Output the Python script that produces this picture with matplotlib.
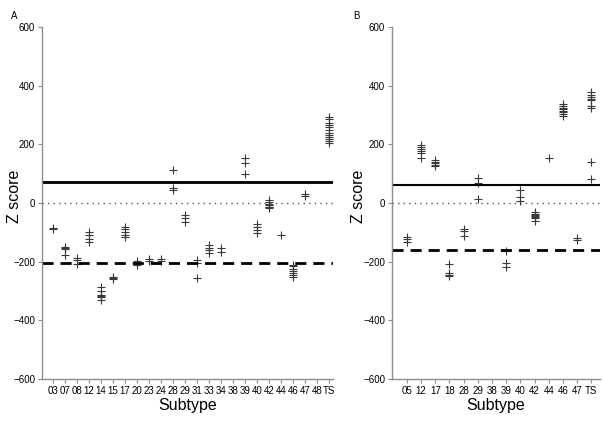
import matplotlib
matplotlib.use("Agg")
import matplotlib.pyplot as plt

plt.rcParams["font.family"] = ["Liberation Sans", "DejaVu Sans"]

# Panel A
subtypes_a = ["03", "07", "08", "12", "14", "15", "17", "20", "23", "24", "28", "29",
              "31", "33", "34", "38", "39", "40", "42", "44", "46", "47", "48", "TS"]
zscores_a = [
    [-85, -90],
    [-149, -154, -158, -177],
    [-186, -194, -207],
    [-99, -110, -122, -133],
    [-288, -300, -314, -318, -321, -332],
    [-252, -255, -258],
    [-81, -90, -98, -109, -115],
    [-197, -204, -211],
    [-192, -197],
    [-191, -198],
    [113, 52, 44],
    [-41, -52, -64],
    [-194, -206, -255],
    [-143, -152, -160, -172],
    [-155, -166],
    [],
    [155, 135, 98],
    [-70, -81, -92, -103],
    [10, 2, -5, -8, -12, -15, -18],
    [-109],
    [-210, -215, -225, -232, -240, -247, -253],
    [25, 30],
    [],
    [295, 285, 272, 265, 258, 250, 240, 232, 225, 218, 212, 205],
]
upper_a = 73
lower_a = -206

# Panel B
subtypes_b = ["05", "12", "17", "18", "28", "29", "38", "39", "40", "42", "44", "46", "47", "TS"]
zscores_b = [
    [-115, -124, -134],
    [198, 190, 183, 178, 172, 155],
    [145, 140, 135, 130, 125],
    [-208, -240, -245, -250],
    [-88, -95, -112],
    [84, 67, 13],
    [],
    [-164, -206, -217],
    [44, 19, 8],
    [-30, -38, -42, -45, -48, -52, -60],
    [152],
    [337, 330, 325, 320, 315, 310, 303, 297],
    [-120, -125],
    [378, 370, 362, 355, 350, 332, 323, 139, 82],
]
upper_b = 60
lower_b = -160

fig = plt.figure(figsize=(6.03, 4.22), dpi=100)
ax_a = fig.add_axes([0.0697, 0.1019, 0.4826, 0.834])
ax_b = fig.add_axes([0.650, 0.1019, 0.345, 0.834])

spine_grey = "#8c8c8c"


def draw_panel(ax, subtypes, zscores, upper, lower, xlim, solid_lw, ylabel_x):
    for i, vals in enumerate(zscores, start=1):
        if vals:
            ax.plot([i] * len(vals), vals, linestyle="none", marker="+",
                    markersize=5.5, markeredgewidth=0.8, color="#3a3a3a")
    ax.axhline(upper, color="black", linewidth=solid_lw)
    ax.axhline(0, color="#555555", linewidth=1.0, linestyle=(0, (1, 3)))
    ax.axhline(lower, color="black", linewidth=2.0, linestyle=(0, (4, 2.5)))

    ax.set_xlim(*xlim)
    ax.set_ylim(-600, 600)
    ax.set_yticks([-600, -400, -200, 0, 200, 400, 600])
    ax.set_yticklabels(["\u2212600", "\u2212400", "\u2212200", "0", "200", "400", "600"])
    ax.set_xticks(range(1, len(subtypes) + 1))
    ax.set_xticklabels(subtypes)
    ax.tick_params(axis="both", labelsize=7, length=3, width=0.8, color=spine_grey,
                   direction="out", pad=2)
    for side in ("top", "right"):
        ax.spines[side].set_visible(False)
    for side in ("left", "bottom"):
        ax.spines[side].set_color(spine_grey)
        ax.spines[side].set_linewidth(1.0)
    ax.set_ylabel("Z score", fontsize=11.5)
    ax.yaxis.set_label_coords(ylabel_x, 0.52)
    ax.set_xlabel("Subtype", fontsize=11.5)
    ax.xaxis.set_label_coords(0.5, -0.075)
    ax.xaxis.label.set_va("center")
    ax.yaxis.label.set_va("center")


draw_panel(ax_a, subtypes_a, zscores_a, upper_a, lower_a, (0.08, 24.35), 2.0, -0.096)
draw_panel(ax_b, subtypes_b, zscores_b, upper_b, lower_b, (-0.05, 14.6), 1.5, -0.163)

fig.text(0.018, 0.975, "A", fontsize=7, va="top")
fig.text(0.585, 0.975, "B", fontsize=7, va="top")

fig.savefig("out.png", dpi=100)
